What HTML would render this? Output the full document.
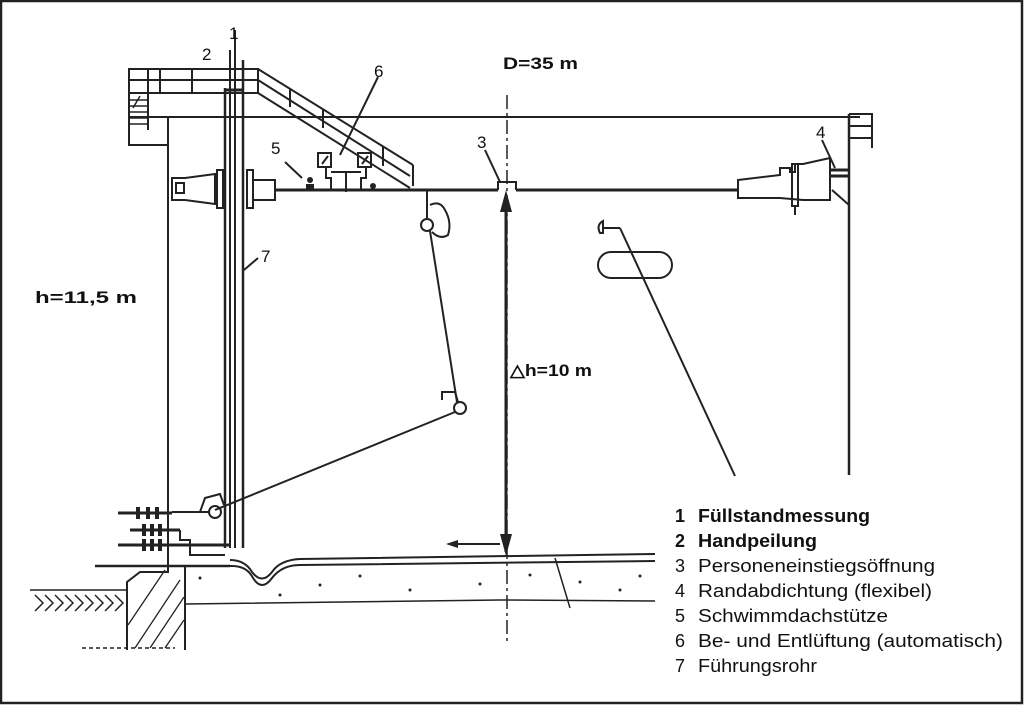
<!DOCTYPE html>
<html><head><meta charset="utf-8"><style>
html,body{margin:0;padding:0;background:#fff}
svg{display:block}
text{font-family:"Liberation Sans",sans-serif;fill:#111}
</style></head><body>
<svg width="1024" height="707" viewBox="0 0 1024 707" xmlns="http://www.w3.org/2000/svg">
<rect x="0" y="0" width="1024" height="707" fill="#fff"/>
<rect x="1" y="1" width="1021" height="702" fill="none" stroke="#222" stroke-width="2.5"/>
<g stroke="#222" fill="none" stroke-width="2">
<rect x="129" y="69" width="129" height="24"/>
<line x1="129" y1="80" x2="258" y2="80"/>
<line x1="148" y1="69" x2="148" y2="93"/><line x1="160" y1="69" x2="160" y2="93"/><line x1="192" y1="69" x2="192" y2="93"/>
<path d="M129 93 V145 H168"/>
<line x1="148" y1="93" x2="148" y2="130"/>
<g stroke-width="1.5"><line x1="130" y1="100" x2="147" y2="100"/><line x1="130" y1="106" x2="147" y2="106"/><line x1="130" y1="112" x2="147" y2="112"/><line x1="130" y1="118" x2="147" y2="118"/><line x1="130" y1="124" x2="147" y2="124"/><line x1="133" y1="108" x2="140" y2="96"/></g>
<line x1="258" y1="69" x2="413" y2="165"/>
<line x1="258" y1="80" x2="410" y2="176"/>
<line x1="258" y1="93" x2="410" y2="188"/>
<line x1="413" y1="165" x2="413" y2="186"/>
<line x1="290" y1="89" x2="290" y2="107"/><line x1="323" y1="109" x2="323" y2="128"/><line x1="383" y1="147" x2="383" y2="166"/>
<line x1="129" y1="117" x2="860" y2="117"/>
<line x1="168" y1="117" x2="168" y2="565"/>
<line x1="849" y1="114" x2="849" y2="475" stroke-width="2.5"/>
<path d="M849 114 H872 V148"/><line x1="849" y1="126" x2="871" y2="126"/><line x1="849" y1="138" x2="871" y2="138"/>
<line x1="225" y1="88" x2="225" y2="548" stroke-width="2.5"/>
<line x1="230" y1="50" x2="230" y2="548"/>
<line x1="235" y1="30" x2="235" y2="548"/>
<line x1="243" y1="60" x2="243" y2="548" stroke-width="2.5"/>
<line x1="225" y1="90" x2="243" y2="90" stroke-width="3"/>
<line x1="275" y1="190" x2="498" y2="190" stroke-width="3"/>
<line x1="516" y1="190" x2="738" y2="190" stroke-width="3"/>
<path d="M498 190 V182 H516 V190" stroke-width="2"/>
<path d="M172 178 H185 L215 174 V204 L185 200 H172 Z"/>
<rect x="176" y="183" width="8" height="10"/>
<rect x="217" y="170" width="6" height="38"/><rect x="247" y="170" width="6" height="38"/>
<path d="M253 180 H275 V200 H253"/>
<path d="M738 180 L780 175 V168 H790 V172 H795 V164 H803 L830 158 V200 H803 L780 198 L738 198 Z"/>
<rect x="792" y="164" width="6" height="42"/>
<line x1="795" y1="206" x2="795" y2="215"/>
<path d="M830 170 H849 M830 176 H849" stroke-width="3"/>
<line x1="832" y1="190" x2="849" y2="205"/>
<rect x="318" y="153" width="13" height="14"/><rect x="358" y="153" width="13" height="14"/>
<path d="M326 167 V178 H331 V190 M366 167 V178 H361 V190 M331 172 H361 M346 172 V192"/>
<line x1="322" y1="164" x2="328" y2="156"/><line x1="362" y1="164" x2="368" y2="156"/>
<line x1="378" y1="77" x2="340" y2="155"/>
<line x1="285" y1="162" x2="302" y2="178"/>
<line x1="485" y1="150" x2="500" y2="182"/>
<line x1="822" y1="140" x2="835" y2="168"/>
<line x1="258" y1="258" x2="244" y2="270"/>
<line x1="427" y1="190" x2="427" y2="218"/>
<path d="M430 205 Q440 200 445 210 Q452 222 448 235 Q440 240 432 232"/>
<circle cx="427" cy="225" r="6"/>
<line x1="430" y1="231" x2="457" y2="402"/>
<path d="M442 400 V392 H455 L458 402"/>
<circle cx="460" cy="408" r="6"/>
<line x1="455" y1="412" x2="215" y2="510"/>
<circle cx="215" cy="512" r="6"/>
<path d="M200 512 L205 498 L220 494 L224 505"/>
<line x1="172" y1="512" x2="209" y2="512"/>
<line x1="620" y1="228" x2="735" y2="476"/>
<path d="M603 228 H620"/><path d="M603 221 Q596 225 600 233 H603 Z"/>
<rect x="598" y="252" width="74" height="26" rx="13"/>
<line x1="507" y1="95" x2="507" y2="645" stroke-dasharray="14 4 3 4" stroke-width="1.5"/>
<line x1="506" y1="200" x2="506" y2="552" stroke-width="3"/>
<line x1="450" y1="544" x2="500" y2="544" stroke-width="2"/>
<g stroke-width="3"><line x1="118" y1="513" x2="172" y2="513"/><line x1="130" y1="530" x2="180" y2="530"/><line x1="118" y1="545" x2="230" y2="545"/></g>
<path d="M180 530 V540 H190 V555 H225"/>
<line x1="95" y1="566" x2="230" y2="566" stroke-width="2.5"/>
<path d="M230 560 Q245 560 252 572 Q262 585 272 572 Q280 560 300 559 L655 554" stroke-width="2"/>
<path d="M182 566 H232 Q247 566 253 578 Q262 592 272 578 Q282 565 300 565 L655 561" stroke-width="2"/>
<path d="M185 604 L500 600 L655 601" stroke-width="1.5"/>
<line x1="185" y1="566" x2="185" y2="650"/>
<line x1="555" y1="558" x2="570" y2="608" stroke-width="1.5"/>
<path d="M127 650 V582 L140 572 H168 V566"/>
<line x1="30" y1="590" x2="128" y2="590" stroke-width="1.5"/>
<line x1="82" y1="648" x2="175" y2="648" stroke-dasharray="4 3" stroke-width="1.5"/>
<g stroke-width="1.3"><line x1="135" y1="648" x2="180" y2="580"/><line x1="150" y1="648" x2="184" y2="597"/><line x1="128" y1="625" x2="165" y2="570"/><line x1="165" y1="648" x2="184" y2="620"/></g>
<g stroke-width="1.5"><path d="M35 595 l8 8 l-8 8 M45 595 l8 8 l-8 8 M55 595 l8 8 l-8 8 M65 595 l8 8 l-8 8 M75 595 l8 8 l-8 8 M85 595 l8 8 l-8 8 M95 595 l8 8 l-8 8 M105 595 l8 8 l-8 8 M115 595 l8 8 l-8 8"/></g>
</g>
<g fill="#222">
<path d="M506 190 L500 212 L512 212 Z"/>
<path d="M506 556 L500 534 L512 534 Z"/>
<path d="M446 544 L458 540 L458 548 Z"/>
<circle cx="310" cy="180" r="3"/><rect x="306" y="184" width="8" height="6"/>
<circle cx="373" cy="186" r="3"/>
<rect x="136" y="507" width="4" height="12"/><rect x="146" y="507" width="4" height="12"/><rect x="155" y="507" width="4" height="12"/>
<rect x="142" y="524" width="4" height="12"/><rect x="150" y="524" width="4" height="12"/><rect x="158" y="524" width="4" height="12"/>
<rect x="142" y="539" width="4" height="12"/><rect x="150" y="539" width="4" height="12"/><rect x="158" y="539" width="4" height="12"/>
<circle cx="200" cy="578" r="1.5"/><circle cx="320" cy="585" r="1.5"/><circle cx="410" cy="590" r="1.5"/><circle cx="480" cy="584" r="1.5"/><circle cx="530" cy="575" r="1.5"/><circle cx="620" cy="590" r="1.5"/><circle cx="640" cy="576" r="1.5"/><circle cx="580" cy="582" r="1.5"/><circle cx="280" cy="595" r="1.5"/><circle cx="360" cy="576" r="1.5"/>
</g>
<g font-size="17">
<text x="229" y="39">1</text><text x="202" y="60">2</text>
<text x="477" y="148">3</text><text x="816" y="138">4</text>
<text x="271" y="154">5</text><text x="374" y="77">6</text>
<text x="261" y="262">7</text>
</g>
<g font-size="17" font-weight="bold">
<text x="503" y="69" textLength="75" lengthAdjust="spacingAndGlyphs">D=35 m</text>
<text x="35" y="303" textLength="102" lengthAdjust="spacingAndGlyphs">h=11,5 m</text>
<text x="510" y="376" textLength="82" lengthAdjust="spacingAndGlyphs">△h=10 m</text>
</g>
<g font-size="18">
<text x="675" y="522" font-weight="bold">1</text><text x="698" y="522" font-weight="bold" textLength="172" lengthAdjust="spacingAndGlyphs">Füllstandmessung</text>
<text x="675" y="547" font-weight="bold">2</text><text x="698" y="547" font-weight="bold" textLength="119" lengthAdjust="spacingAndGlyphs">Handpeilung</text>
<text x="675" y="572">3</text><text x="698" y="572" textLength="237" lengthAdjust="spacingAndGlyphs">Personeneinstiegsöffnung</text>
<text x="675" y="597">4</text><text x="698" y="597" textLength="234" lengthAdjust="spacingAndGlyphs">Randabdichtung (flexibel)</text>
<text x="675" y="622">5</text><text x="698" y="622" textLength="190" lengthAdjust="spacingAndGlyphs">Schwimmdachstütze</text>
<text x="675" y="647">6</text><text x="698" y="647" textLength="305" lengthAdjust="spacingAndGlyphs">Be- und Entlüftung (automatisch)</text>
<text x="675" y="672">7</text><text x="698" y="672" textLength="119" lengthAdjust="spacingAndGlyphs">Führungsrohr</text>
</g>
</svg>
</body></html>
